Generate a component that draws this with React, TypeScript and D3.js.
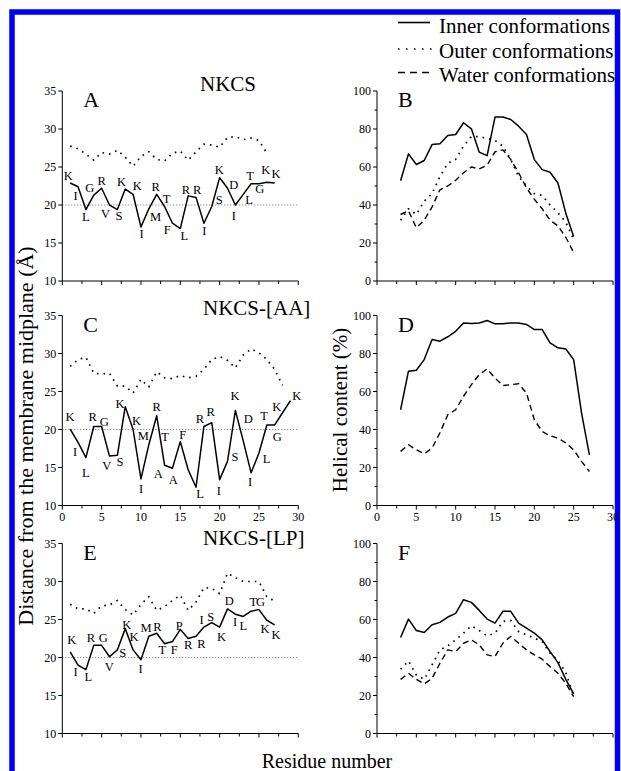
import React from 'react';
import * as d3 from 'd3';

// x axis (residue number) is shared by all six panels
const residueTicks = [0, 5, 10, 15, 20, 25, 30];
const residueMinor = [2.5, 7.5, 12.5, 17.5, 22.5, 27.5];
const distTicks = [10, 15, 20, 25, 30, 35];
const helixTicks = [0, 20, 40, 60, 80, 100];
const helixMinor = [10, 30, 50, 70, 90];

// NKCS : distance (A) from residue 1, helical content (%) from residue 3
const nkcsInnerDist = [22.9, 22.4, 19.4, 21.3, 22.2, 20.0, 19.4, 22.1, 21.4, 17.1, 19.5, 21.4, 19.8, 17.6, 16.9, 21.2, 21.0, 17.6, 19.8, 23.6, 22.2, 20.0, 21.4, 22.8, 22.8, 23.0, 22.9];
const nkcsOuterDist = [27.75, 27.4, 26.7, 25.9, 26.9, 26.7, 27.2, 26.3, 25.1, 26.4, 27.0, 26.0, 25.8, 26.8, 27.1, 25.9, 27.0, 28.0, 27.9, 27.6, 28.9, 29.0, 28.6, 28.8, 28.5, 26.8];
const nkcsInnerHelix = [52.8, 66.9, 61.3, 63.4, 71.8, 72.2, 76.6, 77.1, 83.3, 80.1, 67.8, 66.0, 86.3, 86.3, 85.0, 81.5, 77.1, 63.9, 58.6, 57.2, 51.6, 35.7, 23.4];
const nkcsOuterHelix = [32, 38, 35, 42, 46, 55, 62, 64, 71, 76, 76, 75, 74, 71, 64, 55, 50, 46, 45, 40, 36, 31, 22];
const nkcsWaterHelix = [35, 37, 28, 32, 39, 48, 50, 53, 57, 60, 59, 61, 68, 69, 64, 57, 49, 43, 38, 32, 29, 23, 15];

// NKCS-[AA]
const aaInnerDist = [20.05, 18.3, 16.3, 20.4, 20.4, 16.5, 16.6, 23.0, 20.0, 13.5, 18.0, 21.8, 15.3, 14.9, 18.4, 14.7, 12.4, 20.4, 20.9, 13.4, 15.8, 22.5, 18.5, 14.3, 16.9, 20.6, 20.6, 22.2, 23.8];
const aaOuterDist = [28.3, 29.2, 29.5, 27.4, 27.3, 27.4, 25.7, 25.7, 24.8, 26.6, 25.6, 27.6, 26.8, 26.7, 27.1, 26.8, 27.0, 27.9, 29.2, 29.6, 29.1, 28.1, 29.8, 30.6, 30.1, 29.2, 27.9, 25.8];
const aaInnerHelix = [50.4, 70.7, 71.2, 76.8, 87.4, 86.5, 88.8, 91.7, 96.1, 95.8, 96.1, 97.4, 95.6, 95.6, 96.1, 96.1, 95.3, 92.6, 92.6, 85.6, 83.0, 82.4, 76.8, 48.7, 26.7];
const aaWaterHelix = [28.5, 32, 29.3, 27.2, 30.2, 38.3, 47.8, 50.4, 57.5, 63.6, 68.9, 71.9, 67.1, 63.1, 63.6, 64.1, 59.2, 45.1, 38.9, 36.7, 35.5, 32.9, 29.3, 23.2, 17.9];

// NKCS-[LP]
const lpInnerDist = [20.75, 19.0, 18.4, 21.6, 21.6, 20.1, 21.0, 23.8, 21.0, 19.7, 22.8, 23.2, 21.8, 22.1, 23.7, 22.5, 22.8, 24.0, 24.6, 24.0, 26.4, 25.7, 25.4, 26.1, 26.3, 24.9, 24.3];
const lpOuterDist = [27.0, 26.4, 26.4, 25.8, 26.8, 26.9, 27.5, 26.3, 25.6, 27.0, 28.0, 26.2, 26.7, 27.5, 28.2, 26.2, 27.3, 29.2, 29.1, 28.4, 31.1, 30.5, 30.0, 30.0, 30.0, 28.0, 27.4];
const lpInnerHelix = [50.5, 60.2, 54.2, 53.2, 57.2, 58.5, 61.3, 63.2, 70.4, 69.0, 64.8, 60.2, 58.1, 64.3, 64.3, 58.1, 55.5, 52.8, 49.3, 43.1, 37.3, 28.5, 20.8];
const lpOuterHelix = [33.8, 38.2, 30.8, 28.5, 36.1, 44.0, 46.1, 49.3, 52.8, 56.7, 54.2, 51.4, 52.8, 59.0, 59.5, 53.7, 51.9, 50.2, 48.4, 42.3, 38.5, 32.2, 19.7];
const lpWaterHelix = [28.5, 31.7, 28.5, 26.1, 29.0, 37.0, 44.0, 43.1, 47.5, 49.3, 46.6, 41.4, 40.5, 47.5, 51.1, 47.5, 44.0, 41.4, 39.1, 35.2, 31.7, 26.4, 19.4];

// residue letters, with where they sit in (residue, A) units
const nkcsLetters = 'KILGRVSKKIMRTFLRRISKDILTGKK'.split('');
const nkcsLetterX = [0.76, 1.69, 3.0, 3.5, 5.0, 5.5, 7.2, 7.54, 9.53, 10.08, 11.86, 11.86, 13.26, 13.35, 15.5, 15.7, 17.16, 18.05, 19.96, 19.96, 21.8, 21.8, 23.73, 23.86, 25.1, 25.85, 27.16];
const nkcsLetterY = [23.93, 21.2, 18.5, 22.3, 23.27, 18.9, 18.65, 23.05, 22.6, 16.24, 18.44, 22.4, 20.85, 16.77, 16.0, 22.04, 22.04, 16.68, 20.76, 24.59, 22.7, 18.66, 20.76, 23.84, 22.17, 24.59, 24.15];

const aaLetters = 'KILRGVSKKMIRTAAFLRRISKDILTGKK'.split('');
const aaLetterX = [0.97, 1.61, 3.0, 3.86, 5.34, 5.64, 7.33, 7.33, 9.45, 10.3, 10.0, 12.0, 13.05, 12.2, 14.1, 15.3, 17.5, 17.5, 18.86, 19.9, 21.95, 21.95, 23.64, 23.86, 25.97, 25.64, 27.33, 27.25, 29.79];
const aaLetterY = [21.67, 17.08, 14.33, 21.67, 21.0, 15.2, 15.77, 23.42, 21.23, 19.13, 12.27, 22.98, 19.05, 14.24, 13.45, 19.27, 11.6, 21.45, 22.33, 11.97, 16.42, 24.51, 21.45, 13.15, 16.2, 21.89, 19.05, 23.07, 24.51];

const lpLetters = 'KILRGVSKKIMRTFPRRISKDILTGKK'.split('');
const lpLetterX = [1.19, 1.69, 3.3, 3.64, 5.2, 5.97, 7.67, 8.18, 9.11, 9.96, 10.64, 12.08, 12.71, 14.24, 14.87, 16.0, 17.7, 17.7, 18.86, 20.25, 21.23, 21.95, 23.0, 24.28, 25.2, 25.76, 27.16];
const lpLetterY = [22.41, 18.2, 17.46, 22.63, 22.63, 18.77, 20.61, 24.39, 22.72, 18.55, 23.95, 24.12, 21.1, 21.1, 24.25, 21.75, 21.84, 25.0, 25.35, 22.72, 27.54, 24.69, 24.25, 27.32, 27.32, 23.82, 23.03];

const FONT = '"Liberation Serif", "Times New Roman", serif';
const W = 236;
const H = 190;

const styles: Record<string, { dash?: string; width: number }> = {
  inner: { width: 1.5 },
  outer: { dash: '1.6 5', width: 1.7 },
  water: { dash: '6 4', width: 1.4 },
};

type Series = { kind: 'inner' | 'outer' | 'water'; values: number[]; start: number };

function Panel(props: {
  x0: number; y0: number; domain: [number, number]; major: number[]; minor: number[];
  series: Series[]; xLabels?: boolean; refLine?: number; letter: string;
  letters?: string[]; letterX?: number[]; letterY?: number[];
}) {
  const { x0, y0, domain, major, minor, series, xLabels, refLine, letter, letters, letterX, letterY } = props;
  const x = d3.scaleLinear().domain([0, 30]).range([x0, x0 + W]);
  const y = d3.scaleLinear().domain(domain).range([y0 + H, y0]);

  return (
    <g>
      {refLine !== undefined && (
        <line x1={x(0)} x2={x(30)} y1={y(refLine)} y2={y(refLine)}
          stroke="#444" strokeWidth={0.8} strokeDasharray="1 2" />
      )}
      {series.map((s, k) => {
        const st = styles[s.kind];
        const l = d3.line<number>().x((d, i) => x(i + s.start)).y(d => y(d));
        return <path key={k} d={l(s.values) || ''} fill="none" stroke="#000"
          strokeWidth={st.width} strokeDasharray={st.dash} strokeLinejoin="round" />;
      })}
      {letters && letters.map((c, i) => (
        <text key={i} x={x(letterX![i])} y={y(letterY![i])} dy="0.35em" textAnchor="middle"
          fontSize={12.5} fontFamily={FONT}>{c}</text>
      ))}
      {/* axes */}
      <line x1={x(0)} x2={x(0)} y1={y0 + H} y2={y0} stroke="#000" strokeWidth={1} />
      <line x1={x(0)} x2={x(30)} y1={y0 + H} y2={y0 + H} stroke="#000" strokeWidth={1} />
      {major.map(t => (
        <g key={'y' + t}>
          <line x1={x(0) - 4} x2={x(0)} y1={y(t)} y2={y(t)} stroke="#000" />
          <text x={x(0) - 6} y={y(t)} dy="0.35em" textAnchor="end" fontSize={12} fontFamily={FONT}>{t}</text>
        </g>
      ))}
      {minor.map(t => (
        <line key={'ym' + t} x1={x(0) - 2.5} x2={x(0)} y1={y(t)} y2={y(t)} stroke="#000" />
      ))}
      {residueTicks.map(t => (
        <g key={'x' + t}>
          <line x1={x(t)} x2={x(t)} y1={y0 + H} y2={y0 + H + 4} stroke="#000" />
          {xLabels && (
            <text x={x(t)} y={y0 + H + 15} textAnchor="middle" fontSize={12} fontFamily={FONT}>{t}</text>
          )}
        </g>
      ))}
      {residueMinor.map(t => (
        <line key={'xm' + t} x1={x(t)} x2={x(t)} y1={y0 + H} y2={y0 + H + 3} stroke="#000" />
      ))}
      <text x={x0 + 21} y={y0 + 16} fontSize={22} fontFamily={FONT}>{letter}</text>
    </g>
  );
}

export default function App() {
  const leftX = 62.3;
  const rightX = 377;
  const tops = [91, 315.5, 543.5];
  const dist: [number, number] = [10, 35];
  const helix: [number, number] = [0, 100];

  return (
    <svg width={621} height={771} style={{ position: 'absolute', left: 0, top: 0, background: '#fff' }}
      fontFamily={FONT}>
      <rect x={0} y={0} width={621} height={771} fill="#fff" />
      <rect x={12} y={12} width={605.5} height={790} fill="none" stroke="#0000f5" strokeWidth={5.5} />

      {/* legend */}
      <line x1={398} x2={430} y1={22.5} y2={22.5} stroke="#000" strokeWidth={1.6} />
      <line x1={398} x2={432} y1={49} y2={49} stroke="#000" strokeWidth={1.6} strokeDasharray="1.5 6.5" />
      <line x1={398} x2={432} y1={72.5} y2={72.5} stroke="#000" strokeWidth={1.4} strokeDasharray="7 5" />
      <text x={439} y={33} fontSize={21}>Inner conformations</text>
      <text x={439} y={58} fontSize={21}>Outer conformations</text>
      <text x={439} y={82} fontSize={21}>Water conformations</text>

      <text x={200} y={91} fontSize={21}>NKCS</text>
      <text x={203} y={315} fontSize={21}>NKCS-[AA]</text>
      <text x={203} y={545} fontSize={21}>NKCS-[LP]</text>

      <Panel x0={leftX} y0={tops[0]} domain={dist} major={distTicks} minor={[]} refLine={20} letter="A"
        series={[{ kind: 'outer', values: nkcsOuterDist, start: 1 }, { kind: 'inner', values: nkcsInnerDist, start: 1 }]}
        letters={nkcsLetters} letterX={nkcsLetterX} letterY={nkcsLetterY} />
      <Panel x0={rightX} y0={tops[0]} domain={helix} major={helixTicks} minor={helixMinor} letter="B"
        series={[{ kind: 'outer', values: nkcsOuterHelix, start: 3 }, { kind: 'water', values: nkcsWaterHelix, start: 3 },
          { kind: 'inner', values: nkcsInnerHelix, start: 3 }]} />

      <Panel x0={leftX} y0={tops[1]} domain={dist} major={distTicks} minor={[]} refLine={20} letter="C" xLabels
        series={[{ kind: 'outer', values: aaOuterDist, start: 1 }, { kind: 'inner', values: aaInnerDist, start: 1 }]}
        letters={aaLetters} letterX={aaLetterX} letterY={aaLetterY} />
      <Panel x0={rightX} y0={tops[1]} domain={helix} major={helixTicks} minor={helixMinor} letter="D" xLabels
        series={[{ kind: 'water', values: aaWaterHelix, start: 3 }, { kind: 'inner', values: aaInnerHelix, start: 3 }]} />

      <Panel x0={leftX} y0={tops[2]} domain={dist} major={distTicks} minor={[]} refLine={20} letter="E"
        series={[{ kind: 'outer', values: lpOuterDist, start: 1 }, { kind: 'inner', values: lpInnerDist, start: 1 }]}
        letters={lpLetters} letterX={lpLetterX} letterY={lpLetterY} />
      <Panel x0={rightX} y0={tops[2]} domain={helix} major={helixTicks} minor={helixMinor} letter="F"
        series={[{ kind: 'outer', values: lpOuterHelix, start: 3 }, { kind: 'water', values: lpWaterHelix, start: 3 },
          { kind: 'inner', values: lpInnerHelix, start: 3 }]} />

      <text transform="translate(33,436) rotate(-90)" textAnchor="middle" fontSize={22}>
        Distance from the membrane midplane (Å)
      </text>
      <text transform="translate(347,410) rotate(-90)" textAnchor="middle" fontSize={21}>
        Helical content (%)
      </text>
      <text x={327} y={768} textAnchor="middle" fontSize={20}>Residue number</text>
    </svg>
  );
}
